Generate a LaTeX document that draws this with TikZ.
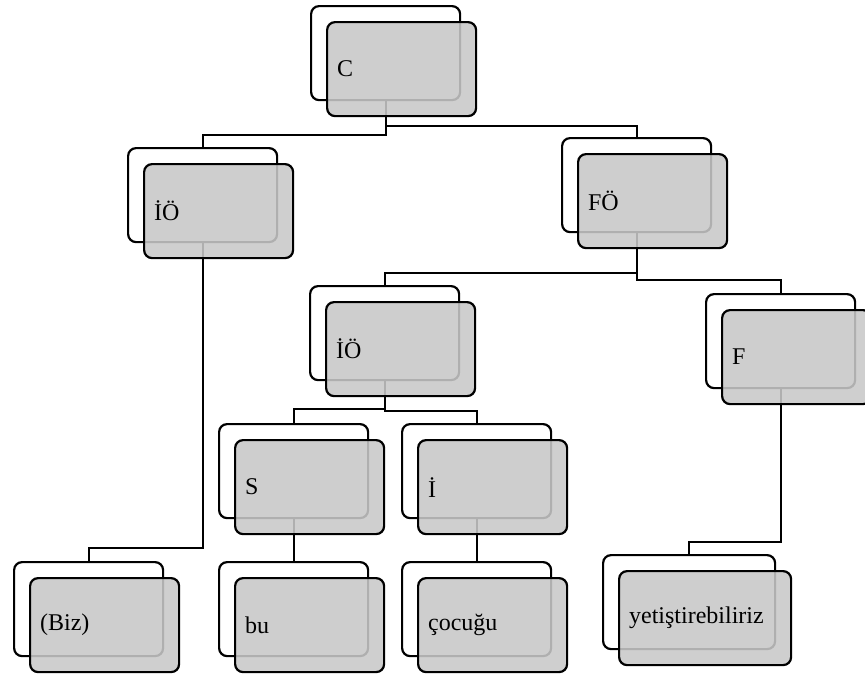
\documentclass[tikz,border=0pt]{standalone}
\usepackage{fontspec}
\setmainfont{Liberation Serif}
\pgfdeclarelayer{background}
\pgfsetlayers{background,main}
\definecolor{frontgray}{RGB}{200,200,200}
\begin{document}
\begin{tikzpicture}[x=1pt,y=-1pt,
  backbox/.style={draw=black, line width=2.2pt, fill=white, rounded corners=8pt,
    minimum width=149pt, minimum height=94pt, inner sep=0pt, anchor=north west},
  frontbox/.style={draw=black, line width=2.2pt, fill=frontgray, fill opacity=0.88,
    text opacity=1, rounded corners=8pt, minimum height=94pt, text width=129pt,
    inner xsep=10pt, inner ysep=0pt, align=left, anchor=north west,
    font=\fontsize{24}{28}\selectfont},
  link/.style={draw=black, line width=2.2pt}]
\useasboundingbox (0,0) rectangle (865,675);

% C
\node[backbox] (Cb) at (310,5) {};
\node[frontbox] (C) at (326,21) {C};
% IÖ left
\node[backbox] (IOLb) at (127,147) {};
\node[frontbox] (IOL) at (143,163) {İÖ};
% FÖ
\node[backbox] (FOb) at (561,137) {};
\node[frontbox] (FO) at (577,153) {FÖ};
% IÖ middle
\node[backbox] (IOMb) at (309,285) {};
\node[frontbox] (IOM) at (325,301) {İÖ};
% F
\node[backbox] (Fb) at (705,293) {};
\node[frontbox] (F) at (721,309) {F};
% S
\node[backbox] (Sb) at (218,423) {};
\node[frontbox] (S) at (234,439) {S};
% İ
\node[backbox] (Ib) at (401,423) {};
\node[frontbox] (I) at (417,439) {İ};
% (Biz)
\node[backbox] (Bizb) at (13,561) {};
\node[frontbox] (Biz) at (29,577) {(Biz)};
% bu
\node[backbox] (bub) at (218,561) {};
\node[frontbox] (bu) at (234,577) {bu};
% çocuğu
\node[backbox] (cocb) at (401,561) {};
\node[frontbox] (coc) at (417,577) {çocuğu};
% yetiştirebiliriz
\node[backbox, minimum width=172pt] (yetb) at (602,554) {};
\node[frontbox, text width=152pt] (yet) at (618,570) {yetiştirebiliriz};

\begin{pgfonlayer}{background}
  \draw[link] (Cb.south) -- ++(0,34) -| (IOLb.north);
  \draw[link] (Cb.south) -- ++(0,25) -| (FOb.north);
  \draw[link] (FOb.south) -- ++(0,40) -| (IOMb.north);
  \draw[link] (FOb.south) -- ++(0,47) -| (Fb.north);
  \draw[link] (IOLb.south) -- ++(0,305) -| (Bizb.north);
  \draw[link] (IOMb.south) -- ++(0,28) -| (Sb.north);
  \draw[link] (IOMb.south) -- ++(0,30) -| (Ib.north);
  \draw[link] (Sb.south) -- (bub.north);
  \draw[link] (Ib.south) -- (cocb.north);
  \draw[link] (Fb.south) -- ++(0,153) -| (yetb.north);
\end{pgfonlayer}
\end{tikzpicture}
\end{document}
